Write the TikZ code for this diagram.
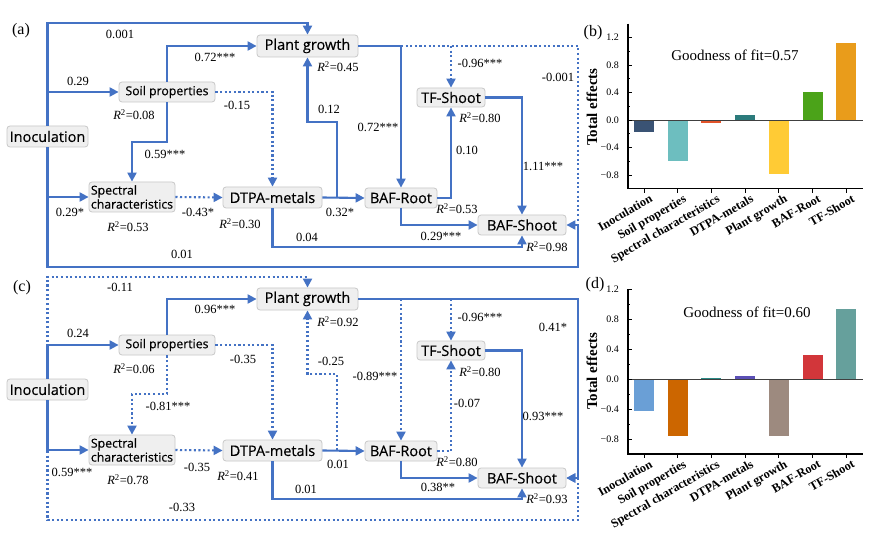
\documentclass[tikz,border=0pt]{standalone}
\usepackage{fontspec}
\setmainfont{Liberation Serif}
\newfontfamily\boxfont[FakeBold=0.35]{Open Sans}
\usetikzlibrary{arrows.meta,calc}
\definecolor{lblue}{HTML}{4472C4}
\definecolor{boxfill}{HTML}{EFEFEF}
\definecolor{boxline}{HTML}{C8C8C8}
\definecolor{bA}{HTML}{3A5374}\definecolor{bB}{HTML}{6DBEBF}\definecolor{bC}{HTML}{E2542A}
\definecolor{bD}{HTML}{2C7B7C}\definecolor{bE}{HTML}{FFCB35}\definecolor{bF}{HTML}{4BA319}
\definecolor{bG}{HTML}{E99C1B}
\definecolor{dA}{HTML}{6A9FD6}\definecolor{dB}{HTML}{CC6600}\definecolor{dC}{HTML}{2A8A86}
\definecolor{dD}{HTML}{5B4FB5}\definecolor{dE}{HTML}{9D8A7F}\definecolor{dF}{HTML}{D2363A}
\definecolor{dG}{HTML}{66A09C}
\tikzset{
 box/.style={draw=boxline, line width=0.8pt, fill=boxfill, rounded corners=3pt, inner sep=0pt},
 bigbox/.style={box, font=\boxfont\fontsize{14.5}{16}\selectfont},
 smallbox/.style={box, font=\boxfont\fontsize{12.3}{14}\selectfont},
 conn/.style={draw=lblue, line width=2.1pt, -{Triangle[length=9pt,width=9pt]}},
 connd/.style={conn, dash pattern=on 2.1pt off 2.5pt},
 plaind/.style={draw=lblue, line width=2.1pt, dash pattern=on 2.1pt off 2.5pt},
 num/.style={font=\fontsize{12.5}{14}\selectfont, inner sep=0pt},
 panel/.style={font=\fontsize{16}{18}\selectfont, inner sep=0pt},
 ticklab/.style={font=\fontsize{10}{11}\selectfont, inner sep=0pt, anchor=east},
 catlab/.style={font=\bfseries\fontsize{12.3}{13}\selectfont, inner sep=0pt, rotate=30, anchor=north east},
 axtitle/.style={font=\bfseries\fontsize{15}{16}\selectfont, inner sep=0pt, rotate=90},
 gof/.style={font=\fontsize{15}{16}\selectfont, inner sep=0pt},
}
\newcommand{\rsq}[1]{\textit{R}\textsuperscript{2}=#1}
\newcommand{\mknodes}[1]{%
 \node[bigbox, minimum width=81pt, minimum height=21pt] (#1-inoc) at (47.5,136.5) {Inoculation};
 \node[smallbox, minimum width=96pt, minimum height=20pt] (#1-soil) at (167,92) {Soil properties};
 \node[smallbox, minimum width=86pt, minimum height=30pt, align=left] (#1-spec) at (132,197) {Spectral\\characteristics};
 \node[bigbox, minimum width=101pt, minimum height=22pt] (#1-plant) at (307.5,46) {Plant growth};
 \node[bigbox, minimum width=99pt, minimum height=21pt] (#1-dtpa) at (272.5,197.5) {DTPA-metals};
 \node[bigbox, minimum width=72pt, minimum height=20pt] (#1-root) at (401,198) {BAF-Root};
 \node[bigbox, minimum width=68pt, minimum height=19pt] (#1-tf) at (451,97.5) {TF-Shoot};
 \node[bigbox, minimum width=88pt, minimum height=20pt] (#1-shoot) at (522,225) {BAF-Shoot};
 \coordinate (#1-j1) at (337,197.5);
}
\newcommand{\mkchart}[4]{% #1 prefix, #2 zero y, #3 scale, #4 top value
 \draw[line width=1.2pt] (628,{#2-#4*#3}) -- (628,{#2+#3}) -- (863,{#2+#3});
 \draw[line width=0.9pt, black!75] (628,#2) -- (863,#2);
 \foreach \t in {-0.8,-0.4,0,0.4,0.8,1.2} \draw[line width=0.8pt] (628,{#2-\t*#3}) -- ++(3.5,0);
 \foreach \t in {-0.6,-0.2,0.2,0.6,1.0} \draw[line width=0.7pt] (628,{#2-\t*#3}) -- ++(2,0);
 \node[ticklab] (#1-t1) at (619,{#2-1.2*#3}) {1.2};
 \node[ticklab] (#1-t2) at (619,{#2-0.8*#3}) {0.8};
 \node[ticklab] (#1-t3) at (619,{#2-0.4*#3}) {0.4};
 \node[ticklab] (#1-t4) at (619,{#2}) {0.0};
 \node[ticklab] (#1-t5) at (619,{#2+0.4*#3}) {−0.4};
 \node[ticklab] (#1-t6) at (619,{#2+0.8*#3}) {−0.8};
 \foreach \i/\lab in {0/Inoculation,1/Soil properties,2/Spectral characteristics,3/DTPA-metals,4/Plant growth,5/BAF-Root,6/TF-Shoot}{
   \draw[line width=0.9pt] ({644+33.7*\i},{#2+#3}) -- ++(0,4);
   \node[catlab] (#1-c\i) at ({649+33.7*\i},{#2+#3+5}) {\lab};
 }
}
\begin{document}
\begin{tikzpicture}[x=1pt,y=-1pt]
\fill[white] (0,0) rectangle (884,540);
\useasboundingbox (0,0) rectangle (884,540);

% ---------------- panel (a)
\node[panel] (lab-a) at (21,31) {(a)};
\mknodes{a}
\draw[conn] (a-inoc.north) -- (a-inoc.north |- 0,23) -| (a-plant.north);
\draw[conn] (a-inoc.north |- a-soil.west) -- (a-soil.west);
\draw[conn] (a-inoc.south |- a-spec.west) -- (a-spec.west);
\draw[plaind] (a-root.north |- a-plant.east) -- (578,46) -- (578,222);
\draw[conn] (a-inoc.south) |- (578,267) |- (a-shoot.east);
\draw[conn] (a-soil.north) |- (a-plant.west);
\draw[conn] (a-soil.south) -- (a-soil.south |- 0,142) -| (a-spec.north);
\draw[connd] (a-soil.east) -| (a-dtpa.north);
\draw[connd] (a-spec.east) -- (a-dtpa.west);
\draw[conn] (a-dtpa.south) -- (a-dtpa.south |- 0,247) -| (a-shoot.south);
\draw[conn] (a-dtpa.east) -- (a-root.west);
\draw[conn] (a-j1) -- (337,122) -| (a-plant.south);
\draw[conn] (a-plant.east) -| (a-root.north);
\draw[connd] (a-tf.north |- a-plant.east) -- (a-tf.north);
\draw[conn] (a-root.east) -| (a-tf.south);
\draw[conn] (a-tf.east) -| (a-shoot.north);
\draw[conn] (a-root.south) |- (a-shoot.west);
\node[num] (a-l1) at (120,34) {0.001};
\node[num] (a-l2) at (78,81) {0.29};
\node[num] (a-l3) at (215,57) {0.72***};
\node[num] (a-l4) at (134,115) {\rsq{0.08}};
\node[num] (a-l5) at (237,105) {-0.15};
\node[num] (a-l6) at (165,154) {0.59***};
\node[num] (a-l7) at (70,212) {0.29*};
\node[num] (a-l8) at (128,227) {\rsq{0.53}};
\node[num] (a-l9) at (198,212) {-0.43*};
\node[num] (a-l10) at (240,224) {\rsq{0.30}};
\node[num] (a-l11) at (182,254) {0.01};
\node[num] (a-l12) at (307,237) {0.04};
\node[num] (a-l13) at (340,212) {0.32*};
\node[num] (a-l14) at (329,109) {0.12};
\node[num] (a-l15) at (338,67) {\rsq{0.45}};
\node[num] (a-l16) at (378,127) {0.72***};
\node[num] (a-l17) at (480,63) {-0.96***};
\node[num] (a-l18) at (558,77) {-0.001};
\node[num] (a-l19) at (480,118) {\rsq{0.80}};
\node[num] (a-l20) at (467,150) {0.10};
\node[num] (a-l21) at (543,166) {1.11***};
\node[num] (a-l22) at (457,209) {\rsq{0.53}};
\node[num] (a-l23) at (441,236) {0.29***};
\node[num] (a-l24) at (547,247) {\rsq{0.98}};

% ---------------- panel (c)
\node[panel] (lab-c) at (22,288) {(c)};
\begin{scope}[shift={(0,253)}]
\mknodes{c}
\draw[connd] (c-inoc.north) -- (c-inoc.north |- 0,24) -| (c-plant.north);
\draw[connd] (c-inoc.south) |- (578,267) |- (c-shoot.east);
\draw[conn] (c-inoc.north) |- (c-soil.west);
\draw[conn] (c-inoc.south) |- (c-spec.west);
\draw[conn] (c-plant.east) -- (578,46) |- (c-shoot.east);
\draw[conn] (c-soil.north) |- (c-plant.west);
\draw[connd] (c-soil.south) -- (c-soil.south |- 0,141) -| (c-spec.north);
\draw[connd] (c-soil.east) -| (c-dtpa.north);
\draw[connd] (c-spec.east) -- (c-dtpa.west);
\draw[conn] (c-dtpa.south) -- (c-dtpa.south |- 0,246) -| (c-shoot.south);
\draw[conn] (c-dtpa.east) -- (c-root.west);
\draw[connd] (c-j1) -- (337,121) -| (c-plant.south);
\draw[connd] (c-root.north |- c-plant.east) -- (c-root.north);
\draw[connd] (c-tf.north |- c-plant.east) -- (c-tf.north);
\draw[connd] (c-root.east) -| (c-tf.south);
\draw[conn] (c-tf.east) -| (c-shoot.north);
\draw[conn] (c-root.south) |- (c-shoot.west);
\node[num] (c-l1) at (120,34) {-0.11};
\node[num] (c-l2) at (78,80) {0.24};
\node[num] (c-l3) at (215,56) {0.96***};
\node[num] (c-l4) at (134,116) {\rsq{0.06}};
\node[num] (c-l5) at (243,106) {-0.35};
\node[num] (c-l6) at (168,153) {-0.81***};
\node[num] (c-l7) at (72,219) {0.59***};
\node[num] (c-l8) at (128,227) {\rsq{0.78}};
\node[num] (c-l9) at (197,214) {-0.35};
\node[num] (c-l10) at (238,223) {\rsq{0.41}};
\node[num] (c-l11) at (182,254) {-0.33};
\node[num] (c-l12) at (306,236) {0.01};
\node[num] (c-l13) at (338,211) {0.01};
\node[num] (c-l14) at (331,108) {-0.25};
\node[num] (c-l15) at (338,69) {\rsq{0.92}};
\node[num] (c-l16) at (375,123) {-0.89***};
\node[num] (c-l17) at (480,64) {-0.96***};
\node[num] (c-l18) at (553,74) {0.41*};
\node[num] (c-l19) at (480,119) {\rsq{0.80}};
\node[num] (c-l20) at (467,150) {-0.07};
\node[num] (c-l21) at (543,163) {0.93***};
\node[num] (c-l22) at (457,209) {\rsq{0.80}};
\node[num] (c-l23) at (438,234) {0.38**};
\node[num] (c-l24) at (547,246) {\rsq{0.93}};
\end{scope}

% ---------------- chart (b)
\foreach \i/\v/\c in {0/-0.17/bA,1/-0.59/bB,2/-0.04/bC,3/0.07/bD,4/-0.78/bE,5/0.40/bF,6/1.12/bG}
  \fill[\c] ({634+33.7*\i},120) rectangle ({654+33.7*\i},{120-\v*68.75});
\mkchart{b}{120}{68.75}{1.4}
\node[panel] (lab-b) at (593,33) {(b)};
\node[axtitle] (b-title) at (592,107) {Total effects};
\node[gof] (b-gof) at (735,55) {Goodness of fit=0.57};

% ---------------- chart (d)
\foreach \i/\v/\c in {0/-0.43/dA,1/-0.76/dB,2/0.015/dC,3/0.04/dD,4/-0.76/dE,5/0.32/dF,6/0.93/dG}
  \fill[\c] ({634+33.7*\i},379) rectangle ({654+33.7*\i},{379-\v*75});
\mkchart{d}{379}{75}{1.2}
\node[panel] (lab-d) at (595,285) {(d)};
\node[axtitle] (d-title) at (592,371) {Total effects};
\node[gof] (d-gof) at (747,312) {Goodness of fit=0.60};
\end{tikzpicture}
\end{document}
